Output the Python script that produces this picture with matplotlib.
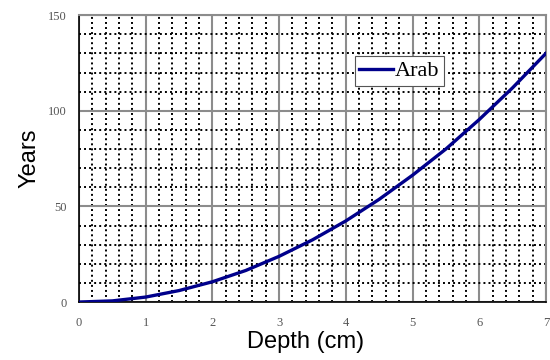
import matplotlib
matplotlib.use("Agg")
import matplotlib.pyplot as plt
from matplotlib.ticker import MultipleLocator

depth = [0, 0.5, 1, 1.5, 2, 2.5, 3, 3.5, 4, 4.5, 5, 5.5, 6, 6.5, 7]
years = [0, 0.6, 2.6, 6.0, 10.6, 16.5, 23.9, 32.5, 42.4, 53.7, 66.3, 80.0, 95.4, 112.0, 130.0]
xticks = [0, 1, 2, 3, 4, 5, 6, 7]
yticks = [0, 50, 100, 150]

fig = plt.figure(figsize=(5.5, 3.6), dpi=100)
ax = fig.add_axes([0.1436, 0.161, 0.849, 0.797])

ax.plot(depth, years, color="#00008b", lw=2.4, label="Arab", zorder=5)

ax.set_xlim(0, 7)
ax.set_ylim(0, 150)
ax.set_xticks(xticks)
ax.set_yticks(yticks)
ax.xaxis.set_minor_locator(MultipleLocator(0.2))
ax.yaxis.set_minor_locator(MultipleLocator(10))

ax.grid(which="major", color="#8c8c8c", lw=1.5, ls="-", zorder=1)
ax.grid(which="minor", color="black", lw=1.4, ls=(0, (1, 1.6)), zorder=0)
ax.set_axisbelow(True)

ax.tick_params(which="both", length=0)
ax.tick_params(axis="x", pad=11)
ax.tick_params(axis="y", pad=9)
for lab in ax.get_xticklabels() + ax.get_yticklabels():
    lab.set_family("Liberation Serif")
    lab.set_fontsize(9)
    lab.set_color("#555555")

for s in ["left", "bottom"]:
    ax.spines[s].set_color("black")
    ax.spines[s].set_linewidth(1.2)
for s in ["top", "right"]:
    ax.spines[s].set_color("#8c8c8c")
    ax.spines[s].set_linewidth(1.5)

ax.set_xlabel("Depth (cm)", family="Liberation Sans", fontsize=17, labelpad=2)
ax.xaxis.set_label_coords(0.486, -0.1)
ax.xaxis.label.set_va("top")
ax.set_ylabel("Years", family="Liberation Sans", fontsize=17, labelpad=5)

leg = ax.legend(loc="center left", bbox_to_anchor=(0.591, 0.805), fancybox=False,
                framealpha=1, edgecolor="#555555", borderpad=0.2, handlelength=1.5,
                handletextpad=0.1, borderaxespad=0, prop={"family": "Liberation Serif", "size": 16})
leg.get_frame().set_linewidth(0.8)

fig.savefig("out.png", dpi=100)
